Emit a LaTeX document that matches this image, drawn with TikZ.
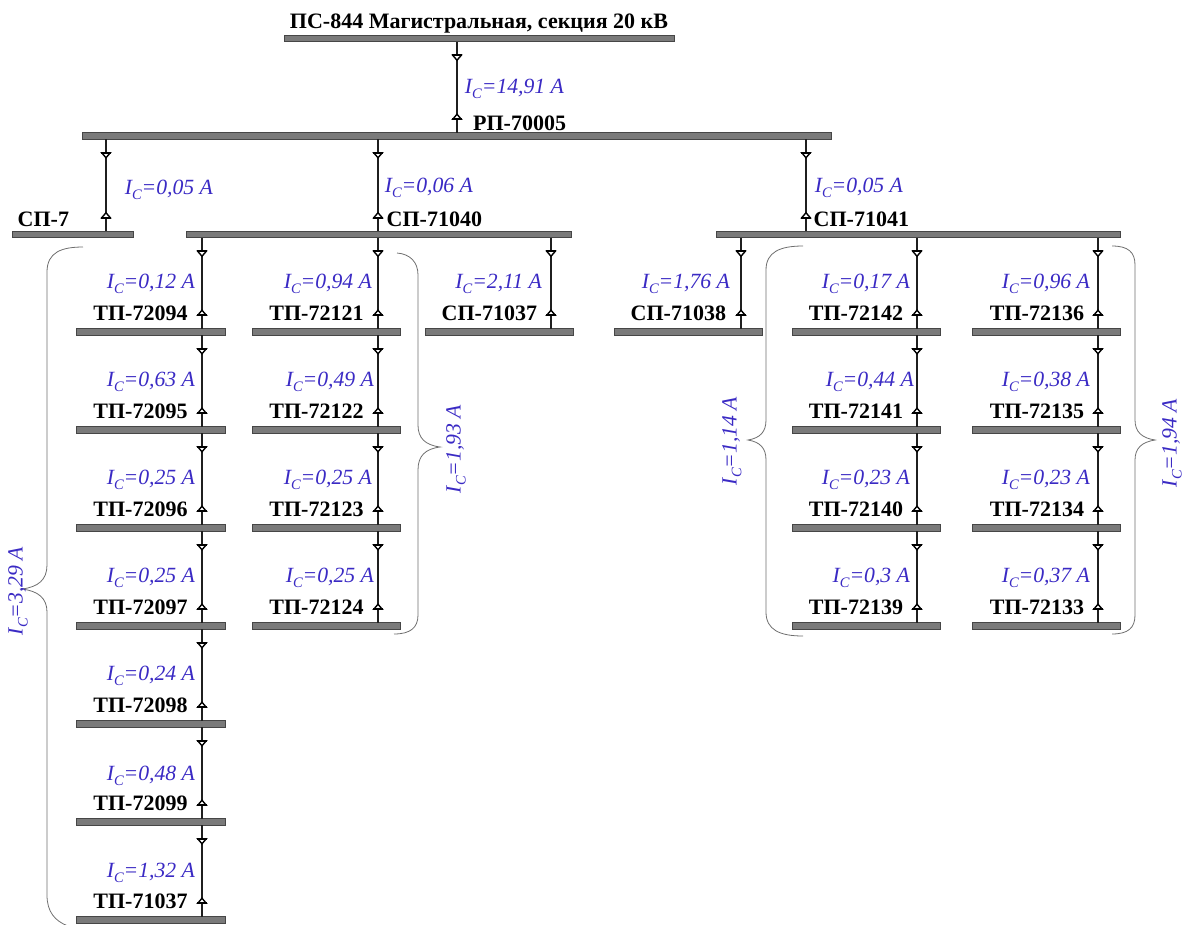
\documentclass[tikz,border=0pt]{standalone}
\usepackage{fontspec}
\usepackage{graphicx}
\setmainfont{Liberation Serif}
\definecolor{barfill}{RGB}{122,122,122}
\definecolor{bardraw}{RGB}{70,70,70}
\definecolor{curblue}{RGB}{58,42,196}
\definecolor{bracegray}{RGB}{110,110,110}
\newcommand{\Ic}[1]{I\raisebox{-0.22em}{\fontsize{14.5}{15}\selectfont C}=#1 A}
\tikzset{
  busbar/.style={draw=bardraw,fill=barfill,line width=0.9pt,minimum height=6.5pt,inner sep=0pt,outer sep=0pt},
  wire/.style={line width=2pt,draw=black!88},
  tipmark/.style={draw=black,fill=white,line width=1.4pt,line join=miter},
  tipbase/.style={draw=black,line width=1.9pt},
  mdown/.pic={\draw[tipmark] (-4.3,-2.5)--(4.3,-2.5)--(0,2.5)--cycle; \draw[tipbase] (-4.6,-2.6)--(4.6,-2.6);},
  mup/.pic={\draw[tipmark] (-4.3,2.5)--(4.3,2.5)--(0,-2.5)--cycle; \draw[tipbase] (-4.6,2.6)--(4.6,2.6);},
  bold/.style={font=\fontsize{22}{24}\selectfont\bfseries,text=black,inner sep=0pt,outer sep=0pt,yshift=-5.5pt},
  cur/.style={font=\fontsize{21.7}{23}\selectfont\itshape,text=curblue,inner sep=0pt,outer sep=0pt,yshift=-5pt},
  bracket/.style={draw=bracegray,line width=0.8pt,fill=none},
}
\newcommand{\bus}[4]{\node[busbar,minimum width={(#3-#2)*1pt}] (#1) at ({(#2+#3)/2},#4) {};}
\newcommand{\feed}[3]{%
  \coordinate (tmpx) at (#3,0);
  \draw[wire] (#1.south -| tmpx) -- (#2.north -| tmpx);
  \path (#1.south -| tmpx) ++(0,16) pic{mdown};
  \path (#2.north -| tmpx) ++(0,-16) pic{mup};}
\newcommand{\blab}[4]{\node[bold,anchor=mid east] (#1) at (#2,#3) {#4};}
\newcommand{\clab}[4]{\node[cur,anchor=mid east] (#1) at (#2,#3) {\Ic{#4}};}
\begin{document}
\begin{tikzpicture}[x=1pt,y=-1pt]
\useasboundingbox (0,0) rectangle (1185,924);
% buses
\bus{ps}{284}{674}{38.5}
\bus{rp}{82}{831}{136}
\bus{sp7}{12}{133}{234.5}
\bus{spa}{186}{571}{234.5}
\bus{spb}{716}{1120}{234.5}
\foreach \n/\y in {1/332,2/430,3/528,4/626,5/724,6/822,7/920}{
  \bus{a\n}{76}{225}{\y}
}
\foreach \n/\y in {1/332,2/430,3/528,4/626}{
  \bus{b\n}{252}{400}{\y}
  \bus{e\n}{792}{940}{\y}
  \bus{f\n}{972}{1120}{\y}
}
\bus{c1}{425}{573}{332}
\bus{d1}{614}{762}{332}
% feeders
\feed{ps}{rp}{457}
\feed{rp}{sp7}{106}
\feed{rp}{spa}{378}
\feed{rp}{spb}{806}
\feed{spa}{a1}{202}
\feed{a1}{a2}{202}\feed{a2}{a3}{202}\feed{a3}{a4}{202}\feed{a4}{a5}{202}\feed{a5}{a6}{202}\feed{a6}{a7}{202}
\feed{spa}{b1}{378}
\feed{b1}{b2}{378}\feed{b2}{b3}{378}\feed{b3}{b4}{378}
\feed{spa}{c1}{551}
\feed{spb}{d1}{741}
\feed{spb}{e1}{917}
\feed{e1}{e2}{917}\feed{e2}{e3}{917}\feed{e3}{e4}{917}
\feed{spb}{f1}{1098}
\feed{f1}{f2}{1098}\feed{f2}{f3}{1098}\feed{f3}{f4}{1098}
% station labels
\node[bold,anchor=mid] (tps) at (479,21) {ПС-844 Магистральная, секция 20 кВ};
\blab{trp}{566}{123}{РП-70005}
\blab{tsp7}{69}{219}{СП-7}
\blab{tspa}{482}{219}{СП-71040}
\blab{tspb}{909}{219}{СП-71041}
\foreach \n/\y/\t in {a1/313/ТП-72094,a2/411/ТП-72095,a3/509/ТП-72096,a4/607/ТП-72097,a5/705/ТП-72098,a6/803/ТП-72099,a7/901/ТП-71037}{
  \blab{t\n}{187.5}{\y}{\t}
}
\foreach \n/\y/\t in {b1/313/ТП-72121,b2/411/ТП-72122,b3/509/ТП-72123,b4/607/ТП-72124}{
  \blab{t\n}{363.5}{\y}{\t}
}
\blab{tc1}{537}{313}{СП-71037}
\blab{td1}{726}{313}{СП-71038}
\foreach \n/\y/\t in {e1/313/ТП-72142,e2/411/ТП-72141,e3/509/ТП-72140,e4/607/ТП-72139}{
  \blab{t\n}{903}{\y}{\t}
}
\foreach \n/\y/\t in {f1/313/ТП-72136,f2/411/ТП-72135,f3/509/ТП-72134,f4/607/ТП-72133}{
  \blab{t\n}{1084}{\y}{\t}
}
% current labels
\clab{ips}{564}{86}{14,91}
\clab{isp7}{213}{187}{0,05}
\clab{ispa}{473}{185}{0,06}
\clab{ispb}{903}{185}{0,05}
\clab{ia1}{195}{281}{0,12}
\clab{ia2}{195}{379}{0,63}
\clab{ia3}{195}{477}{0,25}
\clab{ia4}{195}{575}{0,25}
\clab{ia5}{195}{673}{0,24}
\clab{ia6}{195}{773}{0,48}
\clab{ia7}{195}{870}{1,32}
\clab{ib1}{372}{281}{0,94}
\clab{ib2}{374}{379}{0,49}
\clab{ib3}{372}{477}{0,25}
\clab{ib4}{374}{575}{0,25}
\clab{ic1}{542}{281}{2,11}
\clab{id1}{730}{281}{1,76}
\clab{ie1}{910}{281}{0,17}
\clab{ie2}{914}{379}{0,44}
\clab{ie3}{910}{477}{0,23}
\clab{ie4}{910}{575}{0,3}
\clab{if1}{1090}{281}{0,96}
\clab{if2}{1090}{379}{0,38}
\clab{if3}{1090}{477}{0,23}
\clab{if4}{1090}{575}{0,37}
% braces
\draw[bracket] (83,247) .. controls (62,247) and (47,252) .. (47,272) -- (47,565) .. controls (47,580) and (38,587) .. (22,589) .. controls (38,591) and (47,598) .. (47,612) -- (47,895) .. controls (47,912) and (55,921) .. (68,926);
\draw[bracket] (397,253) .. controls (410,254) and (418,262) .. (418,275) -- (418,425) .. controls (418,438) and (425,445) .. (440,447) .. controls (425,449) and (418,456) .. (418,470) -- (418,615) .. controls (418,628) and (410,634) .. (394,634);
\draw[bracket] (803,246) .. controls (780,246) and (766,252) .. (766,270) -- (766,420) .. controls (766,432) and (760,438) .. (748,440) .. controls (760,442) and (766,448) .. (766,460) -- (766,612) .. controls (766,630) and (780,636) .. (803,636);
\draw[bracket] (1112,246) .. controls (1128,246) and (1135,252) .. (1135,265) -- (1135,420) .. controls (1135,432) and (1142,438) .. (1155,440) .. controls (1142,442) and (1135,448) .. (1135,460) -- (1135,615) .. controls (1135,628) and (1128,634) .. (1112,634);
\node[cur,rotate=90,yshift=5pt] (ibrA) at (23,586) {\Ic{3,29}};
\node[cur,rotate=90,yshift=5pt] (ibrB) at (461,444) {\Ic{1,93}};
\node[cur,rotate=90,yshift=5pt] (ibrC) at (737,436) {\Ic{1,14}};
\node[cur,rotate=90,yshift=5pt] (ibrD) at (1177,438) {\Ic{1,94}};
\end{tikzpicture}
\end{document}
